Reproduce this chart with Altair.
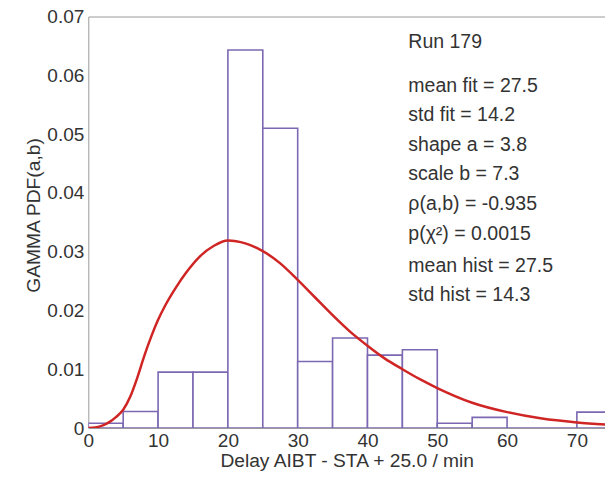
import altair as alt
import pandas as pd

# Histogram (density per 5-minute bin)
bin_start = [0, 5, 10, 15, 20, 25, 30, 35, 40, 45, 50, 55, 60, 65, 70]
bin_end = [5, 10, 15, 20, 25, 30, 35, 40, 45, 50, 55, 60, 65, 70, 75]
density = [0.0008, 0.0028, 0.0095, 0.0095, 0.0643, 0.0510, 0.0113, 0.0153,
           0.0124, 0.0133, 0.0008, 0.0018, 0.0, 0.0, 0.0027]

# Fitted gamma PDF curve
curve_x = [0, 1, 2, 3, 4, 5, 6, 7, 8, 9, 10, 11, 12.5, 14, 16, 18,
           20, 22.5, 25, 27.5, 30, 32.5, 35, 37.5, 40, 42.5, 45, 47.5,
           50, 55, 60, 65, 70, 75.5]
curve_y = [0.0, 0.0001, 0.0004, 0.0010, 0.0019, 0.0031, 0.0053, 0.0085,
           0.0122, 0.0155, 0.0184, 0.0208, 0.0238, 0.0264, 0.0292, 0.0310,
           0.0319, 0.0314, 0.0301, 0.0280, 0.0252, 0.0222, 0.0192, 0.0164,
           0.0140, 0.0118, 0.0100, 0.0083, 0.0068, 0.0043, 0.0027, 0.0016,
           0.00095, 0.0005]

x_ticks = [0, 10, 20, 30, 40, 50, 60, 70]
y_ticks = [0, 0.01, 0.02, 0.03, 0.04, 0.05, 0.06, 0.07]

note_run = "Run 179"
notes_fit = ["mean fit = 27.5", "std fit = 14.2", "shape a = 3.8",
             "scale b = 7.3", "\u03c1(a,b) = -0.935", "p(\u03c7\u00b2) = 0.0015"]
notes_hist = ["mean hist = 27.5", "std hist = 14.3"]

x_title = "Delay AIBT - STA + 25.0 / min"
y_title = "GAMMA PDF(a,b)"

FONT = "Liberation Sans"
TXT = "#333333"
AX = "#9a9a9a"
PURPLE = "#7c68b2"
RED = "#d02525"

df_bars = pd.DataFrame({"start": bin_start, "end": bin_end, "density": density})
df_curve = pd.DataFrame({"x": curve_x, "y": curve_y})

x_scale = alt.Scale(domain=[0, 74.03], nice=False, zero=False)
y_scale = alt.Scale(domain=[0, 0.07], nice=False)

y_axis = alt.Axis(orient="left", values=y_ticks, ticks=False, tickSize=0,
                  labelPadding=4.5,
                  labelExpr="datum.value == 0 ? '0' : format(datum.value, '.2f')",
                  title=y_title, titleX=-54.8, titleY=198.5,
                  titleAngle=-90, titleBaseline="middle",
                  titleAlign="center", labelFlush=False,
                  labelFontSize=19, titleFontSize=19.2)

bars = alt.Chart(df_bars).mark_bar(
    fill="white", stroke=PURPLE, strokeWidth=1.6, clip=True
).encode(
    x=alt.X("start:Q", scale=x_scale,
            axis=alt.Axis(orient="bottom", values=x_ticks, format="d",
                          ticks=False, tickSize=0, labelPadding=3,
                          labelFontSize=19, titleFontSize=19.2,
                          title=x_title, titleX=258.4, titleY=23.5,
                          titleBaseline="top", titleAlign="center",
                          labelFlush=False)),
    x2="end:Q",
    y=alt.Y("density:Q", scale=y_scale, axis=y_axis),
    y2=alt.datum(0),
)

curve = alt.Chart(df_curve).mark_line(
    color=RED, strokeWidth=2.5, interpolate="monotone", clip=True
).encode(
    x=alt.X("x:Q", scale=x_scale,
            axis=alt.Axis(orient="top", labels=False, ticks=False,
                          title=None, grid=False)),
    y=alt.Y("y:Q", scale=y_scale, axis=y_axis),
)

anchor = pd.DataFrame({"k": [0]})
text_style = dict(align="left", baseline="top", font=FONT, fontSize=19.5,
                  color=TXT)

t_run = alt.Chart(anchor).mark_text(text=note_run, **text_style).encode(
    x=alt.value(320), y=alt.value(16.8))
t_fit = alt.Chart(anchor).mark_text(text=notes_fit, lineHeight=29.6,
                                    **text_style).encode(
    x=alt.value(320), y=alt.value(60.1))
t_hist = alt.Chart(anchor).mark_text(text=notes_hist, lineHeight=29,
                                     **text_style).encode(
    x=alt.value(320), y=alt.value(240.1))

chart = alt.layer(bars, curve, t_run, t_fit, t_hist).properties(
    width=516.7,
    height=411.5,
    autosize=alt.AutoSizeParams(type="none"),
    padding={"left": 80.3, "top": 8.5, "right": 0, "bottom": 43},
).configure_view(
    stroke=None
).configure_axis(
    grid=False,
    domainColor=AX,
    domainWidth=1,
    labelColor=TXT,
    titleColor=TXT,
    labelFont=FONT,
    titleFont=FONT,
    titleFontWeight="normal",
)

chart.save("out.html", embed_options={"renderer": "svg", "actions": False})
